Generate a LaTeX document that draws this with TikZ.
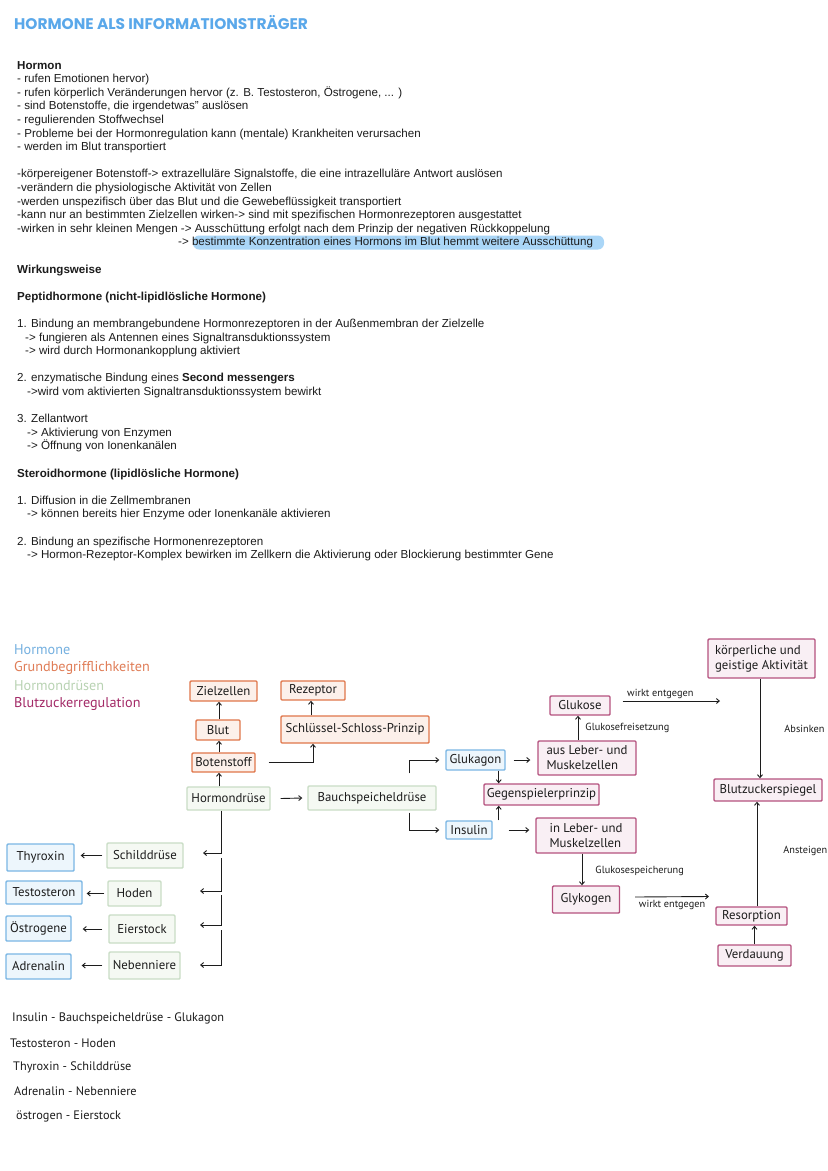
\documentclass[tikz,border=0pt]{standalone}
\usepackage{fontspec}
\setmainfont{Liberation Sans}
\newfontfamily\hand{PT Sans}
\newfontfamily\titlefont{Poppins}
\usetikzlibrary{arrows.meta,calc}
\definecolor{hblueB}{HTML}{7AB6E4}
\definecolor{hblueF}{HTML}{EDF6FC}
\definecolor{orgB}{HTML}{E0764A}
\definecolor{orgF}{HTML}{FCF0EA}
\definecolor{grnB}{HTML}{C9DDC5}
\definecolor{grnF}{HTML}{F5F9F3}
\definecolor{purB}{HTML}{B5527F}
\definecolor{purF}{HTML}{F9EFF4}
\definecolor{legBlue}{HTML}{74B0E0}
\definecolor{legOrg}{HTML}{E07D57}
\definecolor{legGrn}{HTML}{B9D3B3}
\definecolor{legPur}{HTML}{A32A67}
\definecolor{titleBlue}{HTML}{5AA8EA}
\definecolor{hilite}{HTML}{AAD6F7}
\definecolor{ink}{HTML}{1C1C1C}
\begin{document}
\begin{tikzpicture}[x=1pt,y=-1pt,
  tx/.style={anchor=base west, inner sep=0pt, font=\fontsize{11.6}{13}\selectfont, text=ink},
  box/.style={draw, line width=1.4pt, inner sep=1pt, rounded corners=1pt, font=\hand\fontsize{12.8}{15}\selectfont, text=ink, align=left},
  hbox/.style={box, draw=hblueB, fill=hblueF},
  obox/.style={box, draw=orgB, fill=orgF},
  gbox/.style={box, draw=grnB, fill=grnF},
  pbox/.style={box, draw=purB, fill=purF},
  arr/.style={-{Straight Barb[length=3pt,width=5pt]}, line width=0.9pt, draw=ink},
  lab/.style={font=\hand\fontsize{10.3}{11}\selectfont, inner sep=0pt, text=ink},
  leg/.style={anchor=west, inner sep=0pt, font=\hand\fontsize{14.2}{16}\selectfont},
  hw/.style={anchor=west, inner sep=0pt, font=\hand\fontsize{12.3}{14}\selectfont, text=ink}
]
\useasboundingbox (0,0) rectangle (828,1171);
\fill[white] (0,0) rectangle (828,1171);

% title
\node[anchor=west, inner sep=0pt, font=\titlefont\bfseries\fontsize{15.4}{17}\selectfont, text=titleBlue] (title) at (14,23) {HORMONE ALS INFORMATIONSTRÄGER};

% highlight
\fill[hilite, rounded corners=6pt] (193,235.5) rectangle (604,249.5);

% body text
\foreach \n/\t in {
 0/{\textbf{Hormon}},
 1/{- rufen Emotionen hervor)},
 2/{- rufen körperlich Veränderungen hervor (z. B. Testosteron, Östrogene, ... )},
 3/{- sind Botenstoffe, die irgendetwas" auslösen},
 4/{- regulierenden Stoffwechsel},
 5/{- Probleme bei der Hormonregulation kann (mentale) Krankheiten verursachen},
 6/{- werden im Blut transportiert},
 8/{-körpereigener Botenstoff-> extrazelluläre Signalstoffe, die eine intrazelluläre Antwort auslösen},
 9/{-verändern die physiologische Aktivität von Zellen},
 10/{-werden unspezifisch über das Blut und die Gewebeflüssigkeit transportiert},
 11/{-kann nur an bestimmten Zielzellen wirken-> sind mit spezifischen Hormonrezeptoren ausgestattet},
 12/{-wirken in sehr kleinen Mengen -> Ausschüttung erfolgt nach dem Prinzip der negativen Rückkoppelung},
 13/{\hspace*{161pt}-> bestimmte Konzentration eines Hormons im Blut hemmt weitere Ausschüttung},
 15/{\textbf{Wirkungsweise}},
 17/{\textbf{Peptidhormone (nicht-lipidlösliche Hormone)}},
 19/{1. Bindung an membrangebundene Hormonrezeptoren in der Außenmembran der Zielzelle},
 20/{\hspace*{8pt}-> fungieren als Antennen eines Signaltransduktionssystem},
 21/{\hspace*{8pt}-> wird durch Hormonankopplung aktiviert},
 23/{2. enzymatische Bindung eines \textbf{Second messengers}},
 24/{\hspace*{10pt}->wird vom aktivierten Signaltransduktionssystem bewirkt},
 26/{3. Zellantwort},
 27/{\hspace*{10pt}-> Aktivierung von Enzymen},
 28/{\hspace*{10pt}-> Öffnung von Ionenkanälen},
 30/{\textbf{Steroidhormone (lipidlösliche Hormone)}},
 32/{1. Diffusion in die Zellmembranen},
 33/{\hspace*{10pt}-> können bereits hier Enzyme oder Ionenkanäle aktivieren},
 35/{2. Bindung an spezifische Hormonenrezeptoren},
 36/{\hspace*{10pt}-> Hormon-Rezeptor-Komplex bewirken im Zellkern die Aktivierung oder Blockierung bestimmter Gene}}
 \node[tx] (l\n) at (17,{69+13.6*\n}) {\t};

% legend
\node[leg, text=legBlue] (legA) at (14,650) {Hormone};
\node[leg, text=legOrg] (legB) at (14,668) {Grundbegrifflichkeiten};
\node[leg, text=legGrn] (legC) at (14,686) {Hormondrüsen};
\node[leg, text=legPur] (legD) at (14,704) {Blutzuckerregulation};

% boxes
\node[obox, minimum width=67pt, minimum height=20pt] (Zielzellen) at (223.5,691) {Zielzellen};
\node[obox, minimum width=64pt, minimum height=19pt] (Rezeptor) at (313,690.5) {Rezeptor};
\node[obox, minimum width=44pt, minimum height=20pt] (Blut) at (218,730) {Blut};
\node[obox, minimum width=148pt, minimum height=27pt] (Schluessel) at (355,729.5) {Schlüssel-Schloss-Prinzip};
\node[obox, minimum width=63pt, minimum height=19pt] (Botenstoff) at (223.5,762.5) {Botenstoff};
\node[gbox, minimum width=83pt, minimum height=23pt] (Hormondruese) at (228.5,798.5) {Hormondrüse};
\node[gbox, minimum width=128pt, minimum height=24pt] (Bauch) at (372,798) {Bauchspeicheldrüse};
\node[hbox, minimum width=59pt, minimum height=20pt] (Glukagon) at (475.5,760) {Glukagon};
\node[hbox, minimum width=46pt, minimum height=18pt] (Insulin) at (469,830) {Insulin};
\node[pbox, minimum width=115pt, minimum height=21pt] (Gegen) at (541.5,794.5) {Gegenspielerprinzip};
\node[pbox, minimum width=98pt, minimum height=34pt] (ausLeber) at (587,758) {aus Leber- und\\Muskelzellen};
\node[pbox, minimum width=60pt, minimum height=19pt] (Glukose) at (580,705.5) {Glukose};
\node[pbox, minimum width=100pt, minimum height=35pt] (inLeber) at (586,835.5) {in Leber- und\\Muskelzellen};
\node[pbox, minimum width=67pt, minimum height=27pt] (Glykogen) at (586,899.5) {Glykogen};
\node[pbox, minimum width=107pt, minimum height=39pt] (Koerper) at (761.5,658.5) {körperliche und\\geistige Aktivität};
\node[pbox, minimum width=108pt, minimum height=22pt] (BZS) at (768,790) {Blutzuckerspiegel};
\node[pbox, minimum width=71pt, minimum height=18pt] (Resorption) at (751.5,916) {Resorption};
\node[pbox, minimum width=73pt, minimum height=21pt] (Verdauung) at (754.5,955.5) {Verdauung};
\node[hbox, minimum width=67pt, minimum height=27pt] (Thyroxin) at (40.5,857.5) {Thyroxin};
\node[gbox, minimum width=76pt, minimum height=25pt] (Schild) at (145,855.5) {Schilddrüse};
\node[hbox, minimum width=76pt, minimum height=23pt] (Testo) at (44,892.5) {Testosteron};
\node[gbox, minimum width=53pt, minimum height=25pt] (Hoden) at (134.5,893.5) {Hoden};
\node[hbox, minimum width=65pt, minimum height=25pt] (Oestro) at (38.5,928.5) {Östrogene};
\node[gbox, minimum width=66pt, minimum height=28pt] (Eier) at (142,929) {Eierstock};
\node[hbox, minimum width=65pt, minimum height=25pt] (Adren) at (38.5,966.5) {Adrenalin};
\node[gbox, minimum width=71pt, minimum height=27pt] (Neben) at (144.5,965.5) {Nebenniere};

% connectors: upper left
\draw[arr] ([xshift=1pt]Blut.north) -- ([xshift=1pt]Blut.north |- Zielzellen.south);
\draw[arr] ([xshift=1pt]Blut.south |- Botenstoff.north) -- ([xshift=1pt]Blut.south);
\draw[arr] ([xshift=1pt]Blut.south |- Hormondruese.north) -- ([xshift=1pt]Blut.south |- Botenstoff.south);
\draw[arr] ([xshift=13pt]Botenstoff.east) -| (Rezeptor.south |- Schluessel.south);
\draw[arr] ([xshift=-2pt]Rezeptor.south |- Schluessel.north) -- ([xshift=-2pt]Rezeptor.south);
\draw[arr] ([xshift=10pt]Hormondruese.east) -- ([xshift=-5pt]Bauch.west);

% Bauchspeicheldruese
\draw[arr] ([xshift=37pt,yshift=12pt]Bauch.north) |- ([xshift=-6pt]Glukagon.west);
\draw[arr] ([xshift=37pt,yshift=-2pt]Bauch.south) |- ([xshift=-6pt]Insulin.west);
\draw[arr] ([xshift=-7pt]Glukagon.south east) -- ([xshift=-7pt]Glukagon.south east |- Gegen.north);
\draw[arr] ([xshift=6pt]Insulin.north east) -- ([xshift=6pt]Insulin.north east |- Gegen.south);
\draw[arr] ([xshift=8pt]Glukagon.east) -- ([xshift=-7pt]ausLeber.west |- Glukagon.east);
\draw[arr] ([xshift=16pt]Insulin.east) -- ([xshift=-6pt]inLeber.west |- Insulin.east);

% Glukose side
\draw[arr] ([xshift=-2pt]Glukose.south |- ausLeber.north) -- node[lab, anchor=west, xshift=7pt] (lfrei) {Glukosefreisetzung} ([xshift=-2pt]Glukose.south);
\coordinate (gkEnd) at (720,701);
\draw[arr] ([xshift=12pt,yshift=4.5pt]Glukose.east) -- node[lab, anchor=south, yshift=2pt, xshift=-11pt] (lw1) {wirkt entgegen} (gkEnd);
\draw[arr] ([xshift=-1.5pt]Koerper.south) -- node[lab, anchor=west, xshift=24pt] (labs) {Absinken} ([xshift=-1.5pt]Koerper.south |- BZS.north);
\draw[arr] ([xshift=5.5pt]Resorption.north) -- node[lab, anchor=west, xshift=26pt, yshift=3pt] (lans) {Ansteigen} ([xshift=5.5pt]Resorption.north |- BZS.south);
\draw[arr] (Verdauung.north) -- (Verdauung.north |- Resorption.south);

% Glykogen side
\draw[arr] ([xshift=-4pt]inLeber.south) -- node[lab, anchor=west, xshift=13pt, yshift=-1pt] (lspei) {Glukosespeicherung} ([xshift=-4pt]inLeber.south |- Glykogen.north);
\coordinate (gyEnd) at (709,896.5);
\draw[arr] ([xshift=15pt,yshift=2.5pt]Glykogen.east) -- node[lab, anchor=north, yshift=-3pt, xshift=0pt] (lw2) {wirkt entgegen} (gyEnd);

% Hormondruese trunk
\coordinate (c1) at (203,853);
\coordinate (s2) at (221,858); \coordinate (c2) at (200,891);
\coordinate (s3) at (221,895); \coordinate (c3) at (200,925);
\coordinate (s4) at (221,930); \coordinate (c4) at (200,965);
\draw[arr] ([xshift=-7.5pt]Hormondruese.south) |- (c1);
\draw[arr] (s2) |- (c2);
\draw[arr] (s3) |- (c3);
\draw[arr] (s4) |- (c4);

% glands to hormones
\draw[arr] ([xshift=-4pt]Schild.west) -- ([xshift=6pt]Thyroxin.east |- Schild.west);
\draw[arr] ([xshift=-3pt]Hoden.west) -- ([xshift=4pt]Testo.east |- Hoden.west);
\draw[arr] ([xshift=-6pt]Eier.west) -- ([xshift=11pt]Oestro.east |- Eier.west);
\draw[arr] ([xshift=-6pt]Neben.west) -- ([xshift=10pt]Adren.east |- Neben.west);

% bottom list
\node[hw] (b1) at (12,1018) {Insulin - Bauchspeicheldrüse - Glukagon};
\node[hw] (b2) at (10,1043) {Testosteron - Hoden};
\node[hw] (b3) at (13,1067) {Thyroxin - Schilddrüse};
\node[hw] (b4) at (14,1091) {Adrenalin - Nebenniere};
\node[hw] (b5) at (16,1116) {östrogen - Eierstock};
\end{tikzpicture}
\end{document}
